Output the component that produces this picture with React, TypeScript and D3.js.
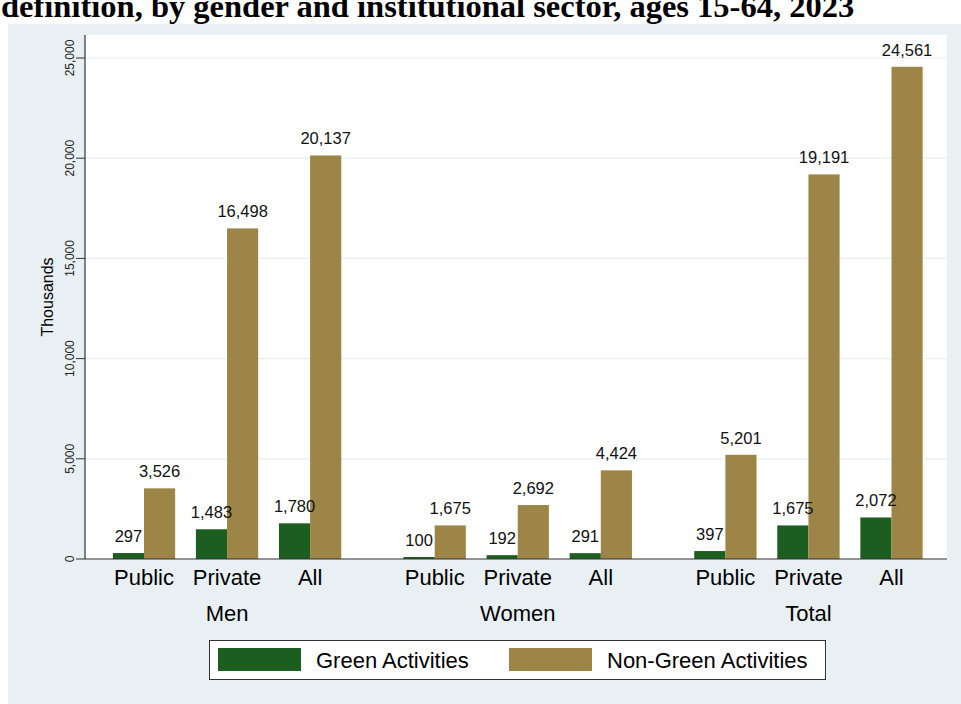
import React from "react";
import * as d3 from "d3";

const title = "definition, by gender and institutional sector, ages 15-64, 2023";
const groups = ["Men", "Women", "Total"];
const sectors = ["Public", "Private", "All"];
const greenValues = [297, 1483, 1780, 100, 192, 291, 397, 1675, 2072];
const nonGreenValues = [3526, 16498, 20137, 1675, 2692, 4424, 5201, 19191, 24561];
const yTicks = [0, 5000, 10000, 15000, 20000, 25000];
const seriesNames = ["Green Activities", "Non-Green Activities"];
const seriesColors = ["#1b5e1f", "#9c8546"];

const W = 961;
const H = 704;
const plot = { left: 85, right: 947, top: 35, bottom: 559 };

export default function App() {
  const fmt = d3.format(",");
  const y = d3.scaleLinear().domain([0, 25000]).range([559, 58]);
  const pos = (i: number) => i + 0.5 * Math.floor(i / 3);
  const x = d3.scaleLinear().domain([0, 9]).range([144, 891.5]);
  const step = x(1) - x(0);
  const bw = step * 0.375;
  const font = "Liberation Sans, Arial, Helvetica, sans-serif";

  const items = greenValues.map((g, i) => ({
    i,
    g,
    n: nonGreenValues[i],
    cx: x(pos(i)),
    sector: sectors[i % 3],
  }));

  return (
    <svg
      width={W}
      height={H}
      style={{ position: "absolute", left: 0, top: 0, display: "block", background: "#fff" }}
      fontFamily={font}
    >
      <rect x={8} y={24} width={W - 8} height={H - 24} fill="#e8f0f3" />
      <text
        x={1}
        y={17}
        fontFamily="Liberation Serif, Times New Roman, serif"
        fontWeight="bold"
        fontSize={32.5}
        fill="#000"
      >
        {title}
      </text>
      <rect
        x={plot.left}
        y={plot.top}
        width={plot.right - plot.left}
        height={plot.bottom - plot.top}
        fill="#ffffff"
      />
      {yTicks.map((t) => (
        <g key={t}>
          {t > 0 && (
            <line x1={plot.left} x2={plot.right} y1={y(t)} y2={y(t)} stroke="#e8f0f3" strokeWidth={1.2} />
          )}
          <line x1={76} x2={plot.left} y1={y(t)} y2={y(t)} stroke="#333" strokeWidth={1} />
          <text
            transform={`translate(74,${y(t)}) rotate(-90)`}
            textAnchor="middle"
            fontSize={12}
            fill="#222"
          >
            {fmt(t)}
          </text>
        </g>
      ))}
      <text
        transform={`translate(53,${(plot.top + plot.bottom) / 2}) rotate(-90)`}
        textAnchor="middle"
        fontSize={16}
        fill="#000"
      >
        Thousands
      </text>
      {items.map((d) => (
        <g key={d.i}>
          <rect x={d.cx - bw} y={y(d.g)} width={bw} height={y(0) - y(d.g)} fill={seriesColors[0]} />
          <rect x={d.cx} y={y(d.n)} width={bw} height={y(0) - y(d.n)} fill={seriesColors[1]} />
          <text x={d.cx - bw / 2} y={y(d.g) - 11} textAnchor="middle" fontSize={16.5} fill="#111">
            {fmt(d.g)}
          </text>
          <text x={d.cx + bw / 2} y={y(d.n) - 11} textAnchor="middle" fontSize={16.5} fill="#111">
            {fmt(d.n)}
          </text>
          <text x={d.cx} y={585} textAnchor="middle" fontSize={22} fill="#000">
            {d.sector}
          </text>
        </g>
      ))}
      {groups.map((g, gi) => (
        <text key={g} x={x(pos(gi * 3 + 1))} y={621} textAnchor="middle" fontSize={22} fill="#000">
          {g}
        </text>
      ))}
      <line x1={plot.left} x2={plot.left} y1={plot.top} y2={plot.bottom} stroke="#333" strokeWidth={1.2} />
      <line x1={plot.left} x2={plot.right} y1={plot.bottom} y2={plot.bottom} stroke="#333" strokeWidth={1.2} />
      <rect x={209.5} y={640.5} width={616} height={39} fill="#fff" stroke="#333" strokeWidth={1} />
      <rect x={218} y={648} width={83} height={23} fill={seriesColors[0]} />
      <text x={316} y={668} fontSize={22} fill="#000">
        {seriesNames[0]}
      </text>
      <rect x={509} y={648} width={83} height={23} fill={seriesColors[1]} />
      <text x={607} y={668} fontSize={22} fill="#000">
        {seriesNames[1]}
      </text>
    </svg>
  );
}
